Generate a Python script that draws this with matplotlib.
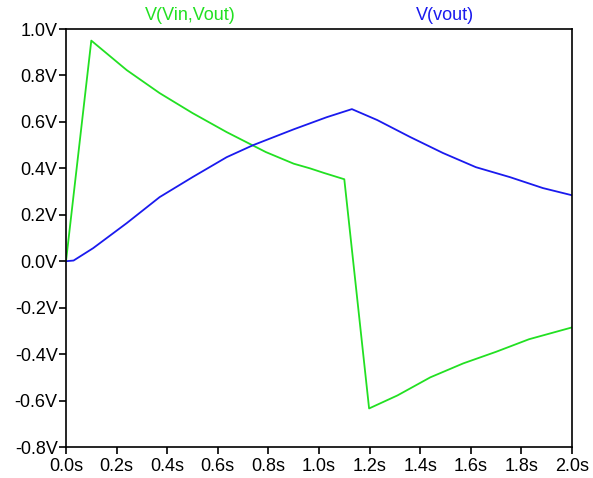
import matplotlib
matplotlib.use('Agg')
import matplotlib.pyplot as plt
from matplotlib.ticker import FuncFormatter

# V(Vin,Vout) - green trace
t_diff = [0.0, 0.1, 0.24, 0.37, 0.50, 0.635, 0.79, 0.90, 0.964, 1.02, 1.10,
          1.198, 1.31, 1.44, 1.57, 1.70, 1.83, 2.0]
v_diff = [0.0, 0.95, 0.823, 0.724, 0.638, 0.556, 0.47, 0.42, 0.40, 0.38, 0.353,
          -0.634, -0.578, -0.50, -0.44, -0.39, -0.336, -0.285]

# V(vout) - blue trace
t_out = [0.0, 0.03, 0.107, 0.24, 0.37, 0.50, 0.635, 0.74, 0.90, 0.96, 1.03,
         1.13, 1.23, 1.36, 1.49, 1.62, 1.755, 1.885, 2.0]
v_out = [0.0, 0.003, 0.056, 0.164, 0.276, 0.362, 0.448, 0.50, 0.568, 0.592, 0.62,
         0.655, 0.608, 0.535, 0.466, 0.405, 0.362, 0.315, 0.284]

x_ticks = [0.0, 0.2, 0.4, 0.6, 0.8, 1.0, 1.2, 1.4, 1.6, 1.8, 2.0]
y_ticks = [-0.8, -0.6, -0.4, -0.2, 0.0, 0.2, 0.4, 0.6, 0.8, 1.0]

plt.rcParams['font.family'] = ['Liberation Sans', 'DejaVu Sans']

fig = plt.figure(figsize=(5.93, 4.78), dpi=100)
ax = fig.add_axes([66 / 593, 1 - 447 / 478, (572 - 66) / 593, (447 - 29) / 478])

ax.plot(t_diff, v_diff, color='#22e022', linewidth=1.3)
ax.plot(t_out, v_out, color='#1a1aee', linewidth=1.3)

ax.set_xlim(0, 2.0)
ax.set_ylim(-0.8, 1.0)
ax.set_xticks(x_ticks)
ax.set_yticks(y_ticks)
ax.xaxis.set_major_formatter(FuncFormatter(lambda v, p: f'{v:.1f}s'))
ax.yaxis.set_major_formatter(FuncFormatter(lambda v, p: f'{v:.1f}V'))
ax.tick_params(direction='out', length=5, width=1.2, labelsize=13, pad=1)
ax.tick_params(axis='x', pad=3)
for s in ax.spines.values():
    s.set_linewidth(1.2)

fig.text(190 / 593, 1 - 16 / 478, 'V(Vin,Vout)', color='#22e022',
         ha='center', va='center', fontsize=13)
fig.text(445 / 593, 1 - 16 / 478, 'V(vout)', color='#1a1aee',
         ha='center', va='center', fontsize=13)

fig.savefig('out.png', dpi=100)
